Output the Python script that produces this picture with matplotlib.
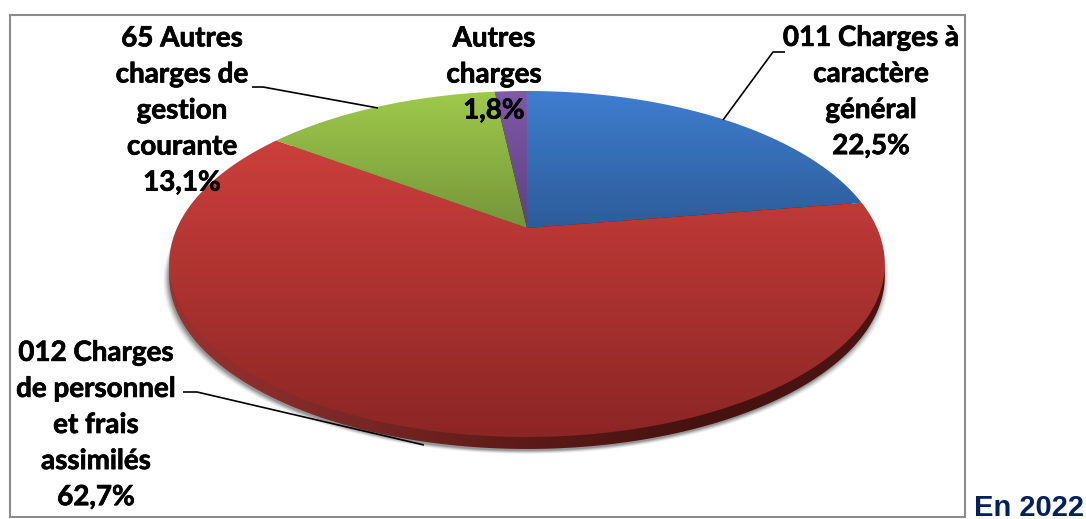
import numpy as np
import matplotlib
matplotlib.use("Agg")
import matplotlib.pyplot as plt
import matplotlib.patheffects as pe
from matplotlib.patches import Polygon, Rectangle
from matplotlib.colors import LinearSegmentedColormap

labels = ["011 Charges à\ncaractère\ngénéral", "012 Charges\nde personnel\net frais\nassimilés",
          "65 Autres\ncharges de\ngestion\ncourante", "Autres\ncharges"]
shares = [22.5, 62.7, 13.1, 1.8]
pct_text = ["22,5%", "62,7%", "13,1%", "1,8%"]
top_colors = ["#3f7ed0", "#cc3f3c", "#9fca4b", "#8059ab"]
bottom_colors = ["#2d5c98", "#8b2625", "#75953a", "#5e4180"]
label_pos = [(871, 92), (96, 425), (182, 110.5), (494, 74.5)]
leaders = [[(723, 120), (773, 52), (785, 52)],
           [(183, 392), (197, 392), (424, 445)],
           [(252, 87), (263, 87), (378, 108)],
           None]

# Perspective of the pie disc
APEX = (527.0, 228.0)
A, C, D = 165.5, 0.208, 350.0
DEPTH = 12


def project(theta):
    u, v = np.sin(theta), np.cos(theta)
    den = 1 + C * v
    return APEX[0] + D * u / den, APEX[1] - A * v / den


fig = plt.figure(figsize=(10.86, 5.19), dpi=100, facecolor="white")
ax = fig.add_axes([0, 0, 1, 1])
ax.set_xlim(0, 1086)
ax.set_ylim(519, 0)
ax.axis("off")

ax.add_patch(Rectangle((9.5, 14.5), 955, 502.5, fc="white", ec="#8c8c8c", lw=1.5, zorder=1))

t = np.linspace(0, 2 * np.pi, 721)
ox, oy = project(t)

# soft shadow
for grow, alpha in [(5, 0.04), (4, 0.05), (3, 0.07), (2, 0.09), (1, 0.11), (0, 0.13)]:
    sx = APEX[0] + (ox - APEX[0]) * (1 + grow / 358) - 1
    sy = oy + DEPTH + 2 + grow * 0.6
    ax.add_patch(Polygon(np.c_[sx, sy], fc="black", ec="none", alpha=alpha, zorder=2))

# side wall
side_cmap = LinearSegmentedColormap.from_list("side", ["#9c3230", "#7a2826", "#5c1a18", "#45120f", "#4c1512"])
im = ax.imshow(np.linspace(0, 1, 256)[None, :], extent=(168, 886, 519, 0), aspect="auto",
               cmap=side_cmap, zorder=3)
wall = Polygon(np.c_[ox, oy + DEPTH], transform=ax.transData, fc="none", ec="none")
ax.add_patch(wall)
im.set_clip_path(wall)

# top surface
fracs = np.array(shares) / sum(shares)
edges = np.r_[0, np.cumsum(fracs)] * 2 * np.pi
for i in range(len(shares)):
    th = np.linspace(edges[i], edges[i + 1], 300)
    px, py = project(th)
    xs, ys = np.r_[APEX[0], px], np.r_[APEX[1], py]
    poly = Polygon(np.c_[xs, ys], fc="none", ec="none", zorder=4)
    ax.add_patch(poly)
    cmap = LinearSegmentedColormap.from_list(f"w{i}", [top_colors[i], bottom_colors[i]])
    g = ax.imshow(np.linspace(0, 1, 256)[:, None], extent=(xs.min(), xs.max(), ys.max(), ys.min()),
                  aspect="auto", cmap=cmap, zorder=4)
    g.set_clip_path(poly)

ax.set_xlim(0, 1086)
ax.set_ylim(519, 0)

# leader lines
for pts in leaders:
    if pts:
        ax.plot(*zip(*pts), color="black", lw=1.2, zorder=5, solid_capstyle="butt")

# labels
for lab, pct, (x, y) in zip(labels, pct_text, label_pos):
    ax.text(x, y, f"{lab}\n{pct}", ha="center", va="center", multialignment="center",
            family="Lato", weight="bold", fontsize=20, linespacing=1.48, color="black", zorder=6,
            path_effects=[pe.withStroke(linewidth=0.5, foreground="black")])

ax.text(974, 516.5, "En 2022", ha="left", va="baseline", family="Liberation Sans", weight="bold",
        fontsize=21, color="#002060", zorder=6)

fig.savefig("out.png", dpi=100, facecolor="white")
